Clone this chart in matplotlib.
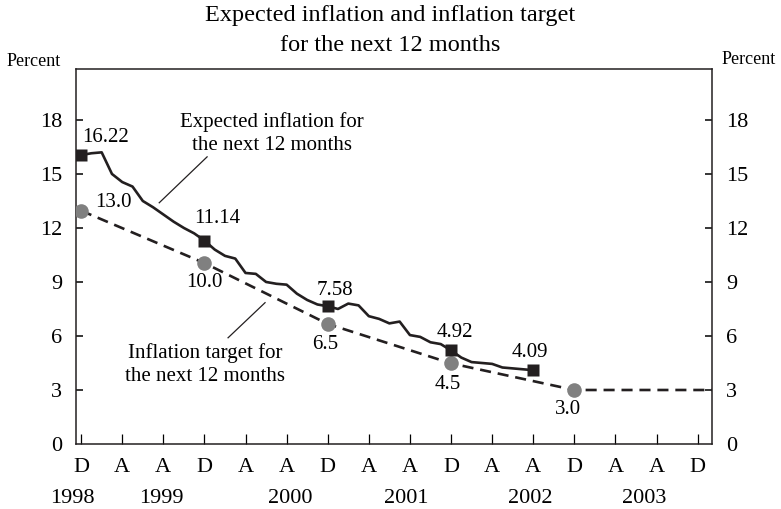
import matplotlib
matplotlib.use('Agg')
import matplotlib.pyplot as plt

plt.rcParams['font.family'] = ['Liberation Serif', 'DejaVu Serif']

# months counted from Dec 1998 (0) onwards
exp_months = list(range(0, 45))
exp_values = [16.05, 16.15, 16.2, 15.0, 14.55, 14.3, 13.5, 13.15, 12.75, 12.35,
              12.0, 11.7, 11.3, 10.8, 10.45, 10.3, 9.5, 9.45, 9.0, 8.9,
              8.85, 8.35, 8.0, 7.75, 7.65, 7.5, 7.8, 7.7, 7.1, 6.95,
              6.7, 6.8, 6.05, 5.95, 5.65, 5.55, 5.2, 4.8, 4.55, 4.5,
              4.45, 4.25, 4.2, 4.15, 4.1]
exp_mark_months = [0, 12, 24, 36, 44]
exp_mark_labels = ['16.22', '11.14', '7.58', '4.92', '4.09']

target_months = [0, 12, 24, 36, 48]
target_values = [12.96, 10.05, 6.67, 4.48, 3.0]
target_labels = ['13.0', '10.0', '6.5', '4.5', '3.0']
target_end_month = 62

tick_months = list(range(0, 61, 4))
tick_labels = ['D', 'A', 'A'] * 5 + ['D']
years = ['1998', '1999', '2000', '2001', '2002', '2003']
year_pos = [-0.9, 7.8, 20.4, 31.6, 43.7, 54.8]

fig = plt.figure(figsize=(7.81, 5.09), dpi=100)
ax = fig.add_axes([76 / 781, 1 - 444 / 509, 636 / 781, 375 / 509])

dark = '#231f20'
grey = '#808080'

# target line (dashed), extended flat after last target
ax.plot(target_months + [target_end_month], target_values + [target_values[-1]],
        color=dark, lw=1.9, dashes=(4.2, 2.6), zorder=2)
ax.plot(target_months, target_values, 'o', color=grey, ms=10.5, mec='none', zorder=4)

# expected inflation (solid)
ax.plot(exp_months, exp_values, color=dark, lw=1.9, zorder=3)
ax.plot(exp_mark_months, [exp_values[m] for m in exp_mark_months], 's',
        color=dark, ms=8.5, mec='none', zorder=5)

# value labels
exp_lab_pos = [(2.4, 17.05), (13.2, 12.55), (24.7, 8.55), (36.4, 6.2), (43.7, 5.1)]
for txt, (x, y) in zip(exp_mark_labels, exp_lab_pos):
    ax.text(x, y, txt, ha='center', va='center', fontsize=15)
tgt_lab_pos = [(3.1, 13.4), (12.0, 8.95), (23.8, 5.55), (35.7, 3.3), (47.4, 1.9)]
for txt, (x, y) in zip(target_labels, tgt_lab_pos):
    ax.text(x, y, txt, ha='center', va='center', fontsize=15)

# series annotations
ax.text(18.6, 17.25, 'Expected inflation for\nthe next 12 months', ha='center', va='center',
        fontsize=15, linespacing=1.3)
ax.plot([12.26, 7.6], [15.95, 13.4], color=dark, lw=0.9)
ax.text(12.1, 4.4, 'Inflation target for\nthe next 12 months', ha='center', va='center',
        fontsize=15, linespacing=1.3)
ax.plot([14.3, 17.9], [5.9, 7.85], color=dark, lw=0.9)

ax.set_xlim(-0.5, 61.4)
ax.set_ylim(0, 20.83)
ax.set_yticks([0, 3, 6, 9, 12, 15, 18])
ax.set_xticks(tick_months)
ax.set_xticklabels(tick_labels)
ax.tick_params(axis='y', direction='in', length=5, width=1.1, labelsize=16, pad=10,
               left=True, right=True, labelleft=True, labelright=True)
ax.tick_params(axis='x', direction='in', length=7, width=0.9, labelsize=16, pad=10)
ax.yaxis.get_major_ticks()[0].tick1line.set_visible(False)
ax.yaxis.get_major_ticks()[0].tick2line.set_visible(False)
for s in ax.spines.values():
    s.set_linewidth(1.1)
    s.set_color(dark)

for yr, x in zip(years, year_pos):
    ax.text(x, -3.0, yr, ha='center', va='center', fontsize=16)

fig.text(0.5, 1 - 5 / 509, 'Expected inflation and inflation target\nfor the next 12 months',
         ha='center', va='top', fontsize=17.5, linespacing=1.55)
fig.text(7 / 781, 1 - 62 / 509, 'Percent', ha='left', va='center', fontsize=13)
fig.text(722 / 781, 1 - 60 / 509, 'Percent', ha='left', va='center', fontsize=13)

fig.savefig('out.png', dpi=100)
